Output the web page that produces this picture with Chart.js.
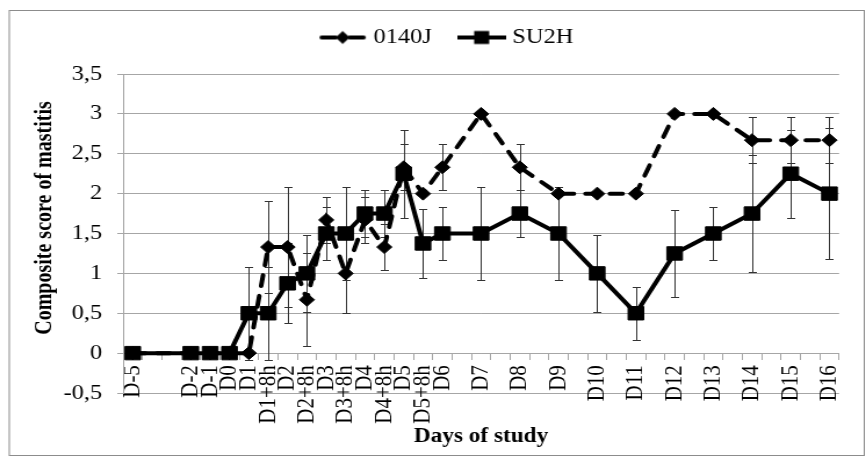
<!DOCTYPE html>
<html>
<head>
<meta charset="utf-8">
<script src="https://cdn.jsdelivr.net/npm/chart.js@4.4.1/dist/chart.umd.min.js"></script>
<style>
  html, body { margin: 0; padding: 0; background: #fff; overflow: hidden; }
  /* the chart is drawn narrow and stretched sideways to the full width */
  #mastitis { display: block; transform: scaleX(1.1609); transform-origin: 0 0; }
</style>
</head>
<body>
<canvas id="mastitis" width="746" height="461"></canvas>
<script>
// sampling days, empty strings are spacer slots between daily samples
const days = ['D-5', '', '', 'D-2', 'D-1', 'D0', 'D1', 'D1+8h', 'D2', 'D2+8h', 'D3', 'D3+8h',
  'D4', 'D4+8h', 'D5', 'D5+8h', 'D6', '', 'D7', '', 'D8', '', 'D9', '', 'D10', '', 'D11', '',
  'D12', '', 'D13', '', 'D14', '', 'D15', '', 'D16'];

const score0140J = [0, null, null, 0, 0, 0, 0, 1.33, 1.33, 0.67, 1.67, 1, 1.67, 1.33, 2.33, 2, 2.33,
  null, 3, null, 2.33, null, 2, null, 2, null, 2, null, 3, null, 3, null, 2.67, null, 2.67, null, 2.67];
const err0140J = [0, 0, 0, 0, 0, 0, 0, 0.58, 0.75, 0.58, 0.29, 0.5, 0.29, 0.29, 0.29, 0, 0.29,
  0, 0, 0, 0.29, 0, 0, 0, 0, 0, 0, 0, 0, 0, 0, 0, 0.29, 0, 0.29, 0, 0.29];

const scoreSU2H = [0, null, null, 0, 0, 0, 0.5, 0.5, 0.875, 1, 1.5, 1.5, 1.75, 1.75, 2.25, 1.375, 1.5,
  null, 1.5, null, 1.75, null, 1.5, null, 1, null, 0.5, null, 1.25, null, 1.5, null, 1.75, null, 2.25, null, 2];
const errSU2H = [0, 0, 0, 0, 0, 0, 0.58, 0.58, 0.5, 0.48, 0.33, 0.58, 0.29, 0.29, 0.55, 0.43, 0.33,
  0, 0.58, 0, 0.29, 0, 0.58, 0, 0.48, 0, 0.33, 0, 0.55, 0, 0.33, 0, 0.73, 0, 0.55, 0, 0.82];

const yMin = -0.5, yMax = 3.5, yStep = 0.5;

Chart.defaults.font.family = "'Liberation Serif', 'Times New Roman', serif";
Chart.defaults.color = '#000';

const GRID = '#a6a6a6';

// small line + marker pictures for the legend
function legendIcon(dashed, style) {
  const c = document.createElement('canvas');
  c.width = 42; c.height = 16;
  const g = c.getContext('2d');
  g.strokeStyle = '#000';
  g.fillStyle = '#000';
  g.lineWidth = 4;
  g.beginPath();
  if (dashed) {
    g.lineCap = 'round';
    g.moveTo(3, 8); g.lineTo(15, 8);
    g.moveTo(27, 8); g.lineTo(39, 8);
  } else {
    g.moveTo(0, 8); g.lineTo(42, 8);
  }
  g.stroke();
  g.beginPath();
  if (style === 'rectRot') {
    g.moveTo(21, 1.5); g.lineTo(27, 8); g.lineTo(21, 14.5); g.lineTo(15, 8);
    g.closePath();
  } else {
    g.rect(14.5, 1.5, 13, 13);
  }
  g.fill();
  return c;
}
const icons = [legendIcon(true, 'rectRot'), legendIcon(false, 'rect')];

// vertical error bars with caps, under the lines and markers
const errorBars = {
  id: 'errorBars',
  beforeDatasetsDraw(chart) {
    const {ctx, scales: {x, y}} = chart;
    ctx.save();
    ctx.strokeStyle = '#333';
    ctx.lineWidth = 1;
    chart.data.datasets.forEach(ds => {
      ds.data.forEach((v, i) => {
        const e = ds.errors[i];
        if (v === null || !e) return;
        const px = Math.round(x.getPixelForValue(i)) + 0.5;
        const top = Math.round(y.getPixelForValue(v + e)) + 0.5;
        const bot = Math.round(y.getPixelForValue(v - e)) + 0.5;
        ctx.beginPath();
        ctx.moveTo(px, top); ctx.lineTo(px, bot);
        ctx.moveTo(px - 3.5, top); ctx.lineTo(px + 3.5, top);
        ctx.moveTo(px - 3.5, bot); ctx.lineTo(px + 3.5, bot);
        ctx.stroke();
      });
    });
    ctx.restore();
  }
};

// outer frame and the rotated y axis title
const frame = {
  id: 'frame',
  beforeInit(chart) {
    const fit = chart.legend.fit;
    chart.legend.fit = function () {
      fit.call(this);
      this.height += 16;
    };
  },
  beforeDraw(chart) {
    const ctx = chart.ctx;
    ctx.save();
    ctx.strokeStyle = '#8c8c8c';
    ctx.lineWidth = 1;
    ctx.strokeRect(8, 10.5, 736.5, 445);
    ctx.restore();
  },
  afterDraw(chart) {
    const ctx = chart.ctx;
    ctx.save();
    ctx.translate(39, 218);
    ctx.rotate(-Math.PI / 2);
    ctx.font = "bold 20px 'Liberation Serif', 'Times New Roman', serif";
    ctx.fillStyle = '#000';
    ctx.textAlign = 'center';
    ctx.textBaseline = 'middle';
    ctx.fillText('Composite score of mastitis', 0, 0);
    ctx.restore();
  }
};

new Chart(document.getElementById('mastitis'), {
  type: 'line',
  data: {
    labels: days,
    datasets: [{
      label: '0140J',
      data: score0140J,
      errors: err0140J,
      borderColor: '#000',
      backgroundColor: '#000',
      borderWidth: 4,
      borderDash: [11, 10],
      borderCapStyle: 'round',
      pointStyle: 'rectRot',
      pointRadius: 6.5,
      pointHoverRadius: 6.5,
      pointBorderWidth: 1,
      spanGaps: true,
      order: 1
    }, {
      label: 'SU2H',
      data: scoreSU2H,
      errors: errSU2H,
      borderColor: '#000',
      backgroundColor: '#000',
      borderWidth: 4,
      pointStyle: 'rect',
      pointRadius: 9.5,
      pointHoverRadius: 9.5,
      pointBorderWidth: 1,
      spanGaps: true,
      order: 0
    }]
  },
  options: {
    responsive: false,
    animation: false,
    events: [],
    layout: { padding: { left: 35, right: 8, top: 0, bottom: 0 } },
    plugins: {
      legend: {
        position: 'top',
        labels: {
          usePointStyle: true,
          pointStyleWidth: 32,
          padding: 27,
          color: '#000',
          font: { size: 21 },
          sort: (a, b) => a.datasetIndex - b.datasetIndex,
          generateLabels(chart) {
            const items = Chart.defaults.plugins.legend.labels.generateLabels(chart);
            items.forEach(it => { it.pointStyle = icons[it.datasetIndex]; });
            return items;
          }
        }
      },
      title: {
        display: true,
        position: 'bottom',
        fullSize: false,
        text: 'Days of study',
        color: '#000',
        font: { size: 20, weight: 'bold' },
        padding: { top: 32, bottom: 12 }
      },
      tooltip: { enabled: false }
    },
    scales: {
      x: {
        type: 'category',
        position: { y: 0 },
        offset: true,
        grid: { offset: true, drawOnChartArea: false, tickLength: 6, color: GRID },
        border: { color: GRID },
        ticks: { autoSkip: false, minRotation: 90, maxRotation: 90, padding: 6, color: '#000', font: { size: 21 } }
      },
      y: {
        min: yMin,
        max: yMax,
        grid: { color: GRID, tickLength: 5 },
        border: { color: GRID },
        ticks: {
          stepSize: yStep,
          padding: 13,
          color: '#000',
          font: { size: 21 },
          callback: v => String(v).replace('.', ',')
        },
        afterFit(scale) { scale.width = 71; }
      }
    }
  },
  plugins: [errorBars, frame]
});
</script>
</body>
</html>
